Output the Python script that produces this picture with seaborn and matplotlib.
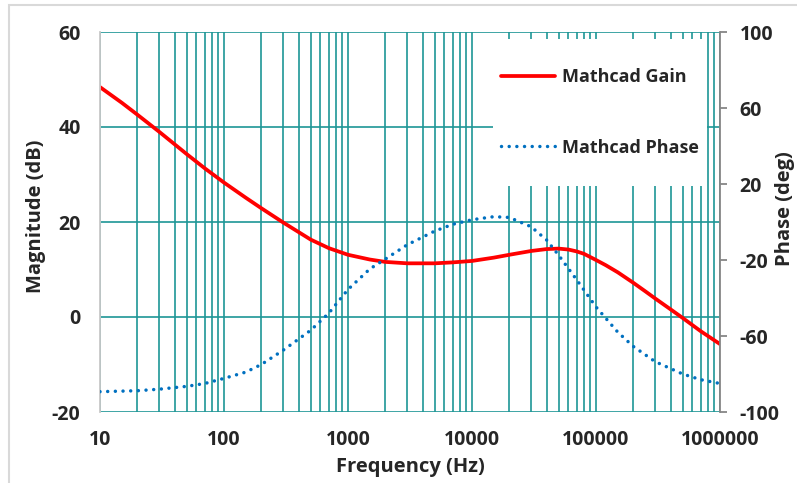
import numpy as np
import pandas as pd
import matplotlib
matplotlib.use("Agg")
import matplotlib.pyplot as plt
from matplotlib.ticker import LogLocator, FixedLocator, NullFormatter, FixedFormatter
from matplotlib.patches import Rectangle
from matplotlib.lines import Line2D
import seaborn as sns

# ---- data ----
gain_freq = [10, 15, 20, 30, 50, 70, 100, 150, 200, 300, 500, 700, 1000, 1500, 2000,
             3000, 5000, 7000, 10000, 15000, 20000, 30000, 40000, 50000, 60000, 70000,
             80000, 100000, 120000, 150000, 200000, 250000, 300000, 400000, 500000,
             700000, 1000000]
gain_db = [48.4, 45.1, 42.6, 39.0, 34.3, 31.3, 28.3, 25.1, 22.9, 19.9, 16.3, 14.5, 13.1,
           12.1, 11.6, 11.3, 11.3, 11.5, 11.8, 12.5, 13.1, 13.9, 14.3, 14.4, 14.2, 13.8,
           13.3, 12.0, 10.9, 9.4, 7.2, 5.4, 3.9, 1.6, -0.2, -3.0, -5.7]

phase_freq = [10, 20, 30, 50, 70, 100, 150, 200, 300, 500, 700, 1000, 1500, 2000, 3000,
              5000, 7000, 10000, 15000, 20000, 30000, 40000, 50000, 70000, 100000,
              150000, 200000, 300000, 500000, 700000, 1000000]
phase_deg = [-89.3, -88.8, -88.0, -86.5, -85.0, -82.3, -79.0, -75.0, -67.5, -57.0, -48.0,
             -35.5, -24.7, -19.5, -12.0, -4.8, -1.2, 1.2, 2.8, 2.4, -2.5, -9.5, -17.5,
             -30.5, -44.7, -58.0, -65.5, -73.5, -80.0, -83.0, -85.0]

x_ticks = [10, 100, 1000, 10000, 100000, 1000000]
x_tick_labels = ["10", "100", "1000", "10000", "100000", "1000000"]
left_ticks = [-20, 0, 20, 40, 60]
right_ticks = [-100, -60, -20, 20, 60, 100]

series_names = ["Mathcad Gain", "Mathcad Phase"]
x_label = "Frequency (Hz)"
left_label = "Magnitude (dB)"
right_label = "Phase (deg)"

gain_df = pd.DataFrame({"f": gain_freq, "v": gain_db})
phase_df = pd.DataFrame({"f": phase_freq, "v": phase_deg})

# ---- style ----
sns.set_style("white")
plt.rcParams["font.family"] = ["Open Sans", "DejaVu Sans"]
plt.rcParams["font.weight"] = "bold"
plt.rcParams["axes.unicode_minus"] = False

W, H = 797, 483
fig = plt.figure(figsize=(W / 100, H / 100), dpi=100)
L, R, T, B = 100, 720, 32, 412
ax = fig.add_axes([L / W, 1 - B / H, (R - L) / W, (B - T) / H])
ax.set_facecolor("none")

grid_c = "#1E9696"
red = "#FF0000"
blue = "#0070C0"
TICK_FS = 14
LAB_FS = 14.5

sns.lineplot(data=gain_df, x="f", y="v", ax=ax, color=red, lw=2.7, legend=False)
ax2 = ax.twinx()
sns.lineplot(data=phase_df, x="f", y="v", ax=ax2, color=blue, lw=2.5, legend=False)

for a in (ax, ax2):
    a.set_xscale("log")
ax.set_xlim(10, 1e6)
ax.set_ylim(-20, 60)
ax2.set_ylim(-100, 100)

ax.yaxis.set_major_locator(FixedLocator(left_ticks))
ax.xaxis.set_major_locator(FixedLocator(x_ticks))
ax.xaxis.set_major_formatter(FixedFormatter(x_tick_labels))
ax.xaxis.set_minor_locator(LogLocator(base=10, subs=np.arange(2, 10)))
ax.xaxis.set_minor_formatter(NullFormatter())
ax.set_axisbelow(True)
ax.grid(True, which="both", axis="x", color=grid_c, lw=1.2)
ax.grid(True, which="major", axis="y", color=grid_c, lw=1.2)
for s in ["top", "bottom", "right"]:
    ax.spines[s].set_visible(False)
ax.spines["left"].set_color("#C8C8C8")
ax.spines["left"].set_linewidth(1.3)
ax.tick_params(axis="both", which="both", length=0)
ax.tick_params(axis="y", pad=14, labelsize=TICK_FS)
ax.tick_params(axis="x", pad=13, labelsize=TICK_FS)
for t in ax.get_xticklabels() + ax.get_yticklabels():
    t.set_fontweight("bold")
ax.set_xlabel(x_label, fontsize=LAB_FS, fontweight="bold")
ax.set_ylabel(left_label, fontsize=LAB_FS, fontweight="bold")
ax.xaxis.label.set_va("center")
ax.yaxis.label.set_va("center")
ax.xaxis.set_label_coords((410 - L) / 620, (B - 467) / 380)
ax.yaxis.set_label_coords((36 - L) / 620, (B - 216) / 380)

pl = ax2.get_lines()[-1]
pl.set_linestyle((0, (0.01, 2.2)))
pl.set_dash_capstyle("round")
ax2.yaxis.set_major_locator(FixedLocator(right_ticks))
for s in ["top", "bottom", "left"]:
    ax2.spines[s].set_visible(False)
ax2.spines["right"].set_color("#868686")
ax2.spines["right"].set_linewidth(1.3)
ax2.tick_params(axis="y", direction="out", length=5, width=1.3, color="#868686", pad=9, labelsize=TICK_FS)
for t in ax2.get_yticklabels():
    t.set_fontweight("bold")
ax2.set_ylabel(right_label, fontsize=LAB_FS, fontweight="bold", rotation=90)
ax2.yaxis.label.set_va("center")
ax2.yaxis.set_label_coords((785 - L) / 620, (B - 209) / 380)

# legend background box
bx0, bx1, by0, by1 = 493, 707, 39, 186
ax2.add_patch(Rectangle(((bx0 - L) / 620, (B - by1) / 380), (bx1 - bx0) / 620, (by1 - by0) / 380,
                        transform=ax2.transAxes, facecolor="white", edgecolor="none", zorder=4))
h1 = Line2D([], [], color=red, lw=2.7)
h2 = Line2D([], [], color=blue, lw=2.5, linestyle=(0, (0.01, 2.2)), dash_capstyle="round")
leg = ax2.legend([h1, h2], series_names, loc="center",
                 bbox_to_anchor=(((bx0 + bx1) / 2 - L) / 620, (B - (by0 + by1) / 2) / 380),
                 frameon=False, prop={"size": 13, "weight": "bold"},
                 handlelength=3.0, handletextpad=0.35, labelspacing=2.9)
leg.set_zorder(5)

# figure border
fig.patches.append(Rectangle((9 / W, -0.05), 1.0, 1.05 - 4.5 / H, transform=fig.transFigure,
                             fill=False, edgecolor="#D9D9D9", lw=1.5))

fig.savefig("out.png", dpi=100)
